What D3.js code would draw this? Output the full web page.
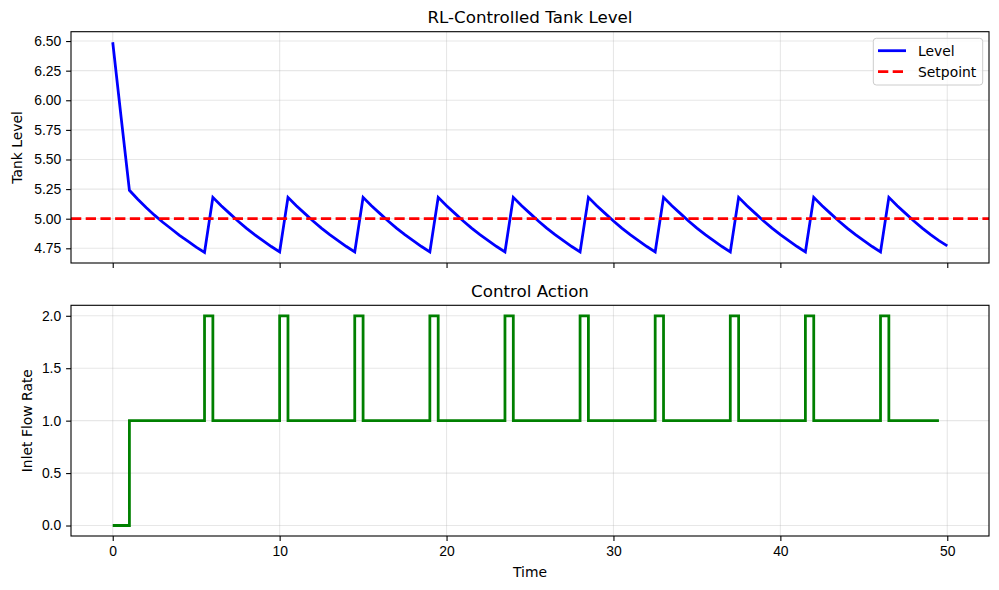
<!DOCTYPE html>
<html>
<head>
<meta charset="utf-8">
<script src="https://cdn.jsdelivr.net/npm/d3@7"></script>
<style>
  body { margin: 0; background: #fff; }
  svg { display: block; font-family: "DejaVu Sans", sans-serif; }
  .tick text { font-size: 13.9px; fill: #000; }
  .tick line { stroke: #000; stroke-width: 1.1px; }
  .grid line { stroke: #b0b0b0; stroke-opacity: 0.3; stroke-width: 1.1px; }
</style>
</head>
<body>
<svg width="999" height="590"></svg>
<script>
// Time steps (shared by both panels)
const time = [
  0, 0.5, 1, 1.5, 2, 2.5, 3, 3.5, 4, 4.5, 5, 5.5, 6, 6.5, 7, 7.5, 8, 8.5, 9, 9.5,
  10, 10.5, 11, 11.5, 12, 12.5, 13, 13.5, 14, 14.5, 15, 15.5, 16, 16.5, 17, 17.5, 18, 18.5, 19, 19.5,
  20, 20.5, 21, 21.5, 22, 22.5, 23, 23.5, 24, 24.5, 25, 25.5, 26, 26.5, 27, 27.5, 28, 28.5, 29, 29.5,
  30, 30.5, 31, 31.5, 32, 32.5, 33, 33.5, 34, 34.5, 35, 35.5, 36, 36.5, 37, 37.5, 38, 38.5, 39, 39.5,
  40, 40.5, 41, 41.5, 42, 42.5, 43, 43.5, 44, 44.5, 45, 45.5, 46, 46.5, 47, 47.5, 48, 48.5, 49, 49.5,
  50
];

// Tank level, one value per time step
const level = [
  6.49, 5.86, 5.24, 5.165, 5.095, 5.03, 4.97, 4.915, 4.86, 4.81, 4.76, 4.715,
  5.18, 5.11, 5.045, 4.98, 4.92, 4.865, 4.815, 4.765, 4.72,
  5.18, 5.11, 5.045, 4.98, 4.92, 4.865, 4.815, 4.765, 4.72,
  5.18, 5.11, 5.045, 4.98, 4.92, 4.865, 4.815, 4.765, 4.72,
  5.18, 5.11, 5.045, 4.98, 4.92, 4.865, 4.815, 4.765, 4.72,
  5.18, 5.11, 5.045, 4.98, 4.92, 4.865, 4.815, 4.765, 4.72,
  5.18, 5.11, 5.045, 4.98, 4.92, 4.865, 4.815, 4.765, 4.72,
  5.18, 5.11, 5.045, 4.98, 4.92, 4.865, 4.815, 4.765, 4.72,
  5.18, 5.11, 5.045, 4.98, 4.92, 4.865, 4.815, 4.765, 4.72,
  5.18, 5.11, 5.045, 4.98, 4.92, 4.865, 4.815, 4.765, 4.72,
  5.18, 5.11, 5.045, 4.98, 4.92, 4.865, 4.815, 4.77
];

// Inlet flow action (no action at t = 50)
const action = [
  0, 0, 1, 1, 1, 1, 1, 1, 1, 1, 1, 2,
  1, 1, 1, 1, 1, 1, 1, 1, 2,
  1, 1, 1, 1, 1, 1, 1, 1, 2,
  1, 1, 1, 1, 1, 1, 1, 1, 2,
  1, 1, 1, 1, 1, 1, 1, 1, 2,
  1, 1, 1, 1, 1, 1, 1, 1, 2,
  1, 1, 1, 1, 1, 1, 1, 1, 2,
  1, 1, 1, 1, 1, 1, 1, 1, 2,
  1, 1, 1, 1, 1, 1, 1, 1, 2,
  1, 1, 1, 1, 1, 1, 1, 1, 2,
  1, 1, 1, 1, 1, 1, 1
];

const setpoint = 5.0;

const xTicks = [0, 10, 20, 30, 40, 50];
const levelTicks = [4.75, 5.00, 5.25, 5.50, 5.75, 6.00, 6.25, 6.50];
const actionTicks = [0, 0.5, 1.0, 1.5, 2.0];

const legendLabels = ['Level', 'Setpoint'];

const svg = d3.select('svg');

// layout of the two panels
const left = 71, right = 989;
const top1 = 31.7, bottom1 = 263;
const top2 = 305.3, bottom2 = 536;
const tick = 4.9;

const x = d3.scaleLinear().domain([-2.5, 52.5]).range([left, right]);
const yLevel = d3.scaleLinear().domain([4.626, 6.579]).range([bottom1, top1]);
const yAction = d3.scaleLinear().domain([-0.1, 2.1]).range([bottom2, top2]);

svg.append('defs').selectAll('clipPath')
  .data([[top1, bottom1, 'clip1'], [top2, bottom2, 'clip2']])
  .join('clipPath').attr('id', d => d[2])
  .append('rect')
  .attr('x', left).attr('y', d => d[0])
  .attr('width', right - left).attr('height', d => d[1] - d[0]);

function drawPanel(y, yTicks, fmt, top, bottom, showXLabels) {
  // grid
  const grid = svg.append('g').attr('class', 'grid');
  grid.selectAll('.gx').data(xTicks).join('line')
    .attr('x1', d => x(d)).attr('x2', d => x(d))
    .attr('y1', top).attr('y2', bottom);
  grid.selectAll('.gy').data(yTicks).join('line')
    .attr('x1', left).attr('x2', right)
    .attr('y1', d => y(d)).attr('y2', d => y(d));

  // axes
  const yAxis = svg.append('g')
    .attr('transform', `translate(${left},0)`)
    .call(d3.axisLeft(y).tickValues(yTicks).tickFormat(d3.format(fmt))
      .tickSize(tick).tickPadding(4.9));
  yAxis.select('.domain').remove();

  const xAxis = svg.append('g')
    .attr('transform', `translate(0,${bottom})`)
    .call(d3.axisBottom(x).tickValues(xTicks)
      .tickFormat(showXLabels ? d3.format('d') : () => '')
      .tickSize(tick).tickPadding(4.9));
  xAxis.select('.domain').remove();
}

////// Top panel: tank level //////
drawPanel(yLevel, levelTicks, '.2f', top1, bottom1, false);

const levelLine = d3.line()
  .x((d, i) => x(time[i]))
  .y(d => yLevel(d));

svg.append('path')
  .datum(level)
  .attr('clip-path', 'url(#clip1)')
  .attr('d', levelLine)
  .attr('fill', 'none')
  .attr('stroke', '#0000ff')
  .attr('stroke-width', 2.78)
  .attr('stroke-linejoin', 'miter');

svg.append('line')
  .attr('clip-path', 'url(#clip1)')
  .attr('x1', left).attr('x2', right)
  .attr('y1', yLevel(setpoint)).attr('y2', yLevel(setpoint))
  .attr('stroke', '#ff0000')
  .attr('stroke-width', 2.78)
  .attr('stroke-dasharray', '10.3,4.4');

////// Bottom panel: control action //////
drawPanel(yAction, actionTicks, '.1f', top2, bottom2, true);

const actionLine = d3.line()
  .x((d, i) => x(time[i]))
  .y(d => yAction(d))
  .curve(d3.curveStepAfter);

svg.append('path')
  .datum(action)
  .attr('clip-path', 'url(#clip2)')
  .attr('d', actionLine)
  .attr('fill', 'none')
  .attr('stroke', '#008000')
  .attr('stroke-width', 2.78);

// spines
[[top1, bottom1], [top2, bottom2]].forEach(([t, b]) => {
  svg.append('rect')
    .attr('x', left).attr('y', t)
    .attr('width', right - left).attr('height', b - t)
    .attr('fill', 'none').attr('stroke', '#000').attr('stroke-width', 1.1);
});

// titles and labels
svg.append('text').attr('x', (left + right) / 2).attr('y', top1 - 8.3)
  .attr('text-anchor', 'middle').attr('font-size', 16.7).text('RL-Controlled Tank Level');
svg.append('text').attr('x', (left + right) / 2).attr('y', top2 - 8.3)
  .attr('text-anchor', 'middle').attr('font-size', 16.7).text('Control Action');
svg.append('text').attr('x', (left + right) / 2).attr('y', 577)
  .attr('text-anchor', 'middle').attr('font-size', 13.9).text('Time');
svg.append('text')
  .attr('transform', `translate(21.5,${(top1 + bottom1) / 2}) rotate(-90)`)
  .attr('text-anchor', 'middle').attr('font-size', 13.9).text('Tank Level');
svg.append('text')
  .attr('transform', `translate(31.5,${(top2 + bottom2) / 2}) rotate(-90)`)
  .attr('text-anchor', 'middle').attr('font-size', 13.9).text('Inlet Flow Rate');

// legend
const legend = svg.append('g');
legend.append('rect')
  .attr('x', 873.3).attr('y', 38.3).attr('width', 109.4).attr('height', 46.7)
  .attr('rx', 3).attr('fill', '#fff').attr('fill-opacity', 0.8)
  .attr('stroke', '#cccccc').attr('stroke-width', 1);

const legendStyles = [
  { color: '#0000ff', dash: null },
  { color: '#ff0000', dash: '10.3,4.4' }
];
legendLabels.forEach((label, i) => {
  const ly = 50.7 + i * 21;
  legend.append('line')
    .attr('x1', 878).attr('x2', 906).attr('y1', ly).attr('y2', ly)
    .attr('stroke', legendStyles[i].color).attr('stroke-width', 2.78)
    .attr('stroke-dasharray', legendStyles[i].dash);
  legend.append('text')
    .attr('x', 918).attr('y', ly + 5)
    .attr('font-size', 13.9).text(label);
});
</script>
</body>
</html>
